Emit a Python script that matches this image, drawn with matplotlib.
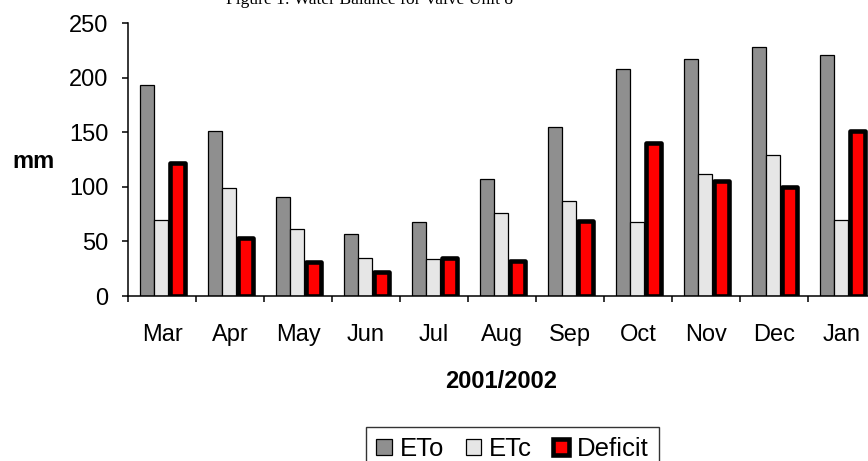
import numpy as np
import matplotlib
matplotlib.use('Agg')
import matplotlib.pyplot as plt
from matplotlib.patches import Patch

months = ['Mar', 'Apr', 'May', 'Jun', 'Jul', 'Aug', 'Sep', 'Oct', 'Nov', 'Dec', 'Jan']
eto = [193, 151, 91, 57, 68, 107, 155, 208, 217, 228, 221]
etc = [70, 99, 61, 35, 34, 76, 87, 68, 112, 129, 70]
deficit = [122, 53, 31, 22, 35, 32, 69, 140, 105, 100, 151]

plt.rcParams['font.family'] = ['Liberation Sans', 'DejaVu Sans']

fig = plt.figure(figsize=(8.68, 4.61), dpi=100)
ax = fig.add_axes([128 / 868, 1 - 296 / 461, 748 / 868, 273 / 461])

x = np.arange(len(months))
w = 0.206
ax.bar(x - 0.221, eto, w, color='#8f8f8f', edgecolor='black', linewidth=0.9, label='ETo')
ax.bar(x - 0.016, etc, w, color='#e6e6e6', edgecolor='black', linewidth=0.9, label='ETc')
ax.bar(x + 0.23, deficit, 0.213, color='#ff0000', edgecolor='black', linewidth=3.3,
       joinstyle='round', label='Deficit')

ax.set_xlim(-0.5, len(months) - 0.5)
ax.set_ylim(0, 250)
ax.set_yticks(range(0, 251, 50))
ax.set_xticks(x)
ax.set_xticklabels(months)
ax.set_xticks(np.arange(-0.5, len(months), 1), minor=True)

for s in ['top', 'right']:
    ax.spines[s].set_visible(False)
for s in ['left', 'bottom']:
    ax.spines[s].set_linewidth(1.1)

ax.tick_params(axis='y', direction='out', length=4, width=1.1, labelsize=17, pad=10)
ax.tick_params(axis='x', which='major', length=0, labelsize=17, pad=20)
ax.tick_params(axis='x', which='minor', direction='out', length=4, width=1.1)

fig.text(33 / 868, 1 - 161 / 461, 'mm', fontsize=17, fontweight='bold', ha='center', va='center')
fig.text(501 / 868, 1 - 381 / 461, '2001/2002', fontsize=17, fontweight='bold', ha='center', va='center')
# title sits partly above the top edge, as in the source
fig.text(370 / 868, 1 - 3.5 / 461, 'Figure 1: Water Balance for Valve Unit 8', fontsize=12.6,
         family='Liberation Serif', ha='center', va='baseline')

handles = [Patch(facecolor='#8f8f8f', edgecolor='black', linewidth=0.9),
           Patch(facecolor='#e6e6e6', edgecolor='black', linewidth=0.9),
           Patch(facecolor='#ff0000', edgecolor='black', linewidth=3.3, joinstyle='round')]
leg = fig.legend(handles, ['ETo', 'ETc', 'Deficit'], loc='upper left',
                 bbox_to_anchor=(366 / 868, 1 - 427 / 461), ncol=3, fontsize=18.5,
                 frameon=True, fancybox=False, handlelength=0.6, handleheight=0.6,
                 handletextpad=0.3, columnspacing=0.85, borderpad=0.4, borderaxespad=0)
leg.get_frame().set_edgecolor('black')
leg.get_frame().set_linewidth(1.0)

fig.savefig('out.png', dpi=100)
